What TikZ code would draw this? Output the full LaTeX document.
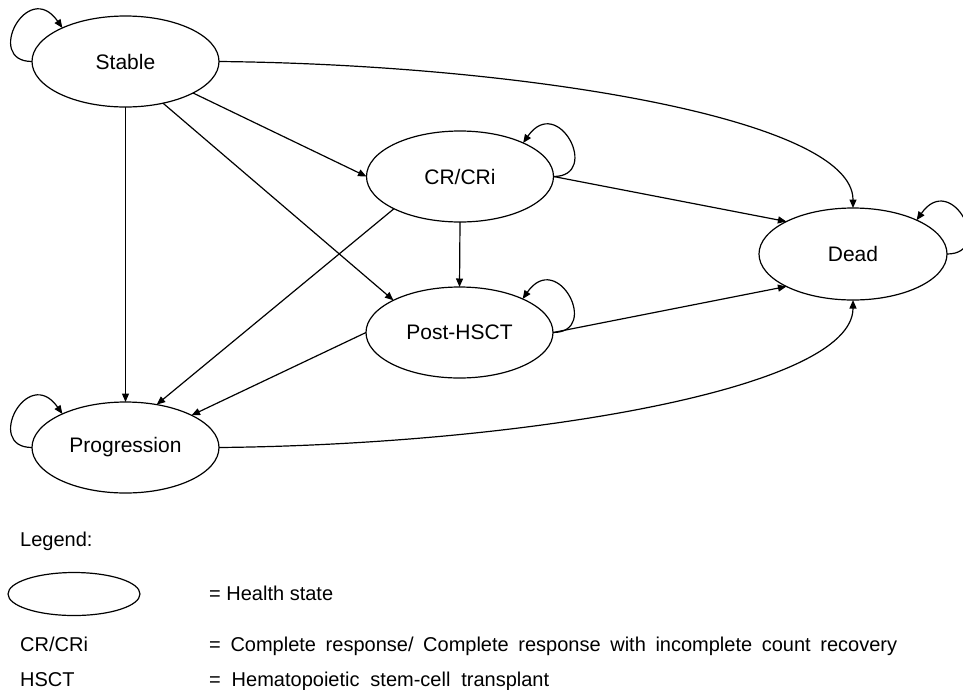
\documentclass[tikz,border=0pt]{standalone}
\usepackage{fontspec}
\setmainfont{Liberation Sans}
\usetikzlibrary{shapes.geometric,arrows.meta,calc}
\begin{document}
\begin{tikzpicture}[x=1pt,y=-1pt,
  state/.style={ellipse,draw,line width=1.2pt,inner sep=0pt,outer sep=0pt,
    minimum width=187pt,minimum height=91pt,font=\fontsize{21}{24}\selectfont},
  arr/.style={line width=1.2pt,-{Triangle[length=8.5pt,width=7pt]}},
  lbl/.style={anchor=base west,inner sep=0pt,font=\fontsize{20}{23}\selectfont}]
\useasboundingbox (0,0) rectangle (963,689);
% states
\node[state] (stable) at (125.5,61.5) {Stable};
\node[state] (cr) at (460,176.5) {CR/CRi};
\node[state] (post) at (459.5,332.5) {Post-HSCT};
\node[state] (prog) at (125.5,447.5) {Progression};
\node[state,minimum width=188pt,minimum height=92pt] (dead) at (853,254) {Dead};
% self loops
\draw[arr] (stable.west) .. controls ($(stable.west)+(-48,0)$) and ($(stable.152)+(-35,-50)$) .. (stable.152);
\draw[arr] (prog.west) .. controls ($(prog.west)+(-48,0)$) and ($(prog.152)+(-35,-50)$) .. (prog.152);
\draw[arr] (cr.east) .. controls ($(cr.east)+(48,0)$) and ($(cr.28)+(35,-50)$) .. (cr.28);
\draw[arr] (post.east) .. controls ($(post.east)+(48,0)$) and ($(post.28)+(35,-50)$) .. (post.28);
\draw[arr] (dead.east) .. controls ($(dead.east)+(48,0)$) and ($(dead.28)+(35,-50)$) .. (dead.28);
% transitions
\draw[arr] (stable.south) -- (prog.north);
\draw[arr] (stable.-25) -- (cr.west);
\draw[arr] (stable.-48) -- (post.154);
\draw[arr] (stable.east) .. controls ($(stable.east)+(300,3)$) and ($(dead.north)+(0,-90)$) .. (dead.north);
\draw[arr] (cr.south) -- (post.north);
\draw[arr] (cr.206) -- (prog.54);
\draw[arr] (cr.east) -- (dead.154);
\draw[arr] (post.west) -- (prog.26);
\draw[arr] (post.east) -- (dead.206);
\draw[arr] (prog.east) .. controls ($(prog.east)+(300,-3)$) and ($(dead.south)+(0,90)$) .. (dead.south);
% legend
\node[lbl] (legendtitle) at (20,546) {Legend:};
\node[state,minimum width=132pt,minimum height=43pt] (legendstate) at (74,594) {};
\node[lbl] (healthtxt) at (209,600) {= Health state};
\node[lbl] (crabbr) at (20,651) {CR/CRi};
\node[lbl] (crtxt) at (209,651) {\makebox[688pt][s]{= Complete response/ Complete response with incomplete count recovery}};
\node[lbl] (hsctabbr) at (20,686) {HSCT};
\node[lbl] (hscttxt) at (209,686) {\makebox[340pt][s]{= Hematopoietic stem-cell transplant}};
\end{tikzpicture}
\end{document}
